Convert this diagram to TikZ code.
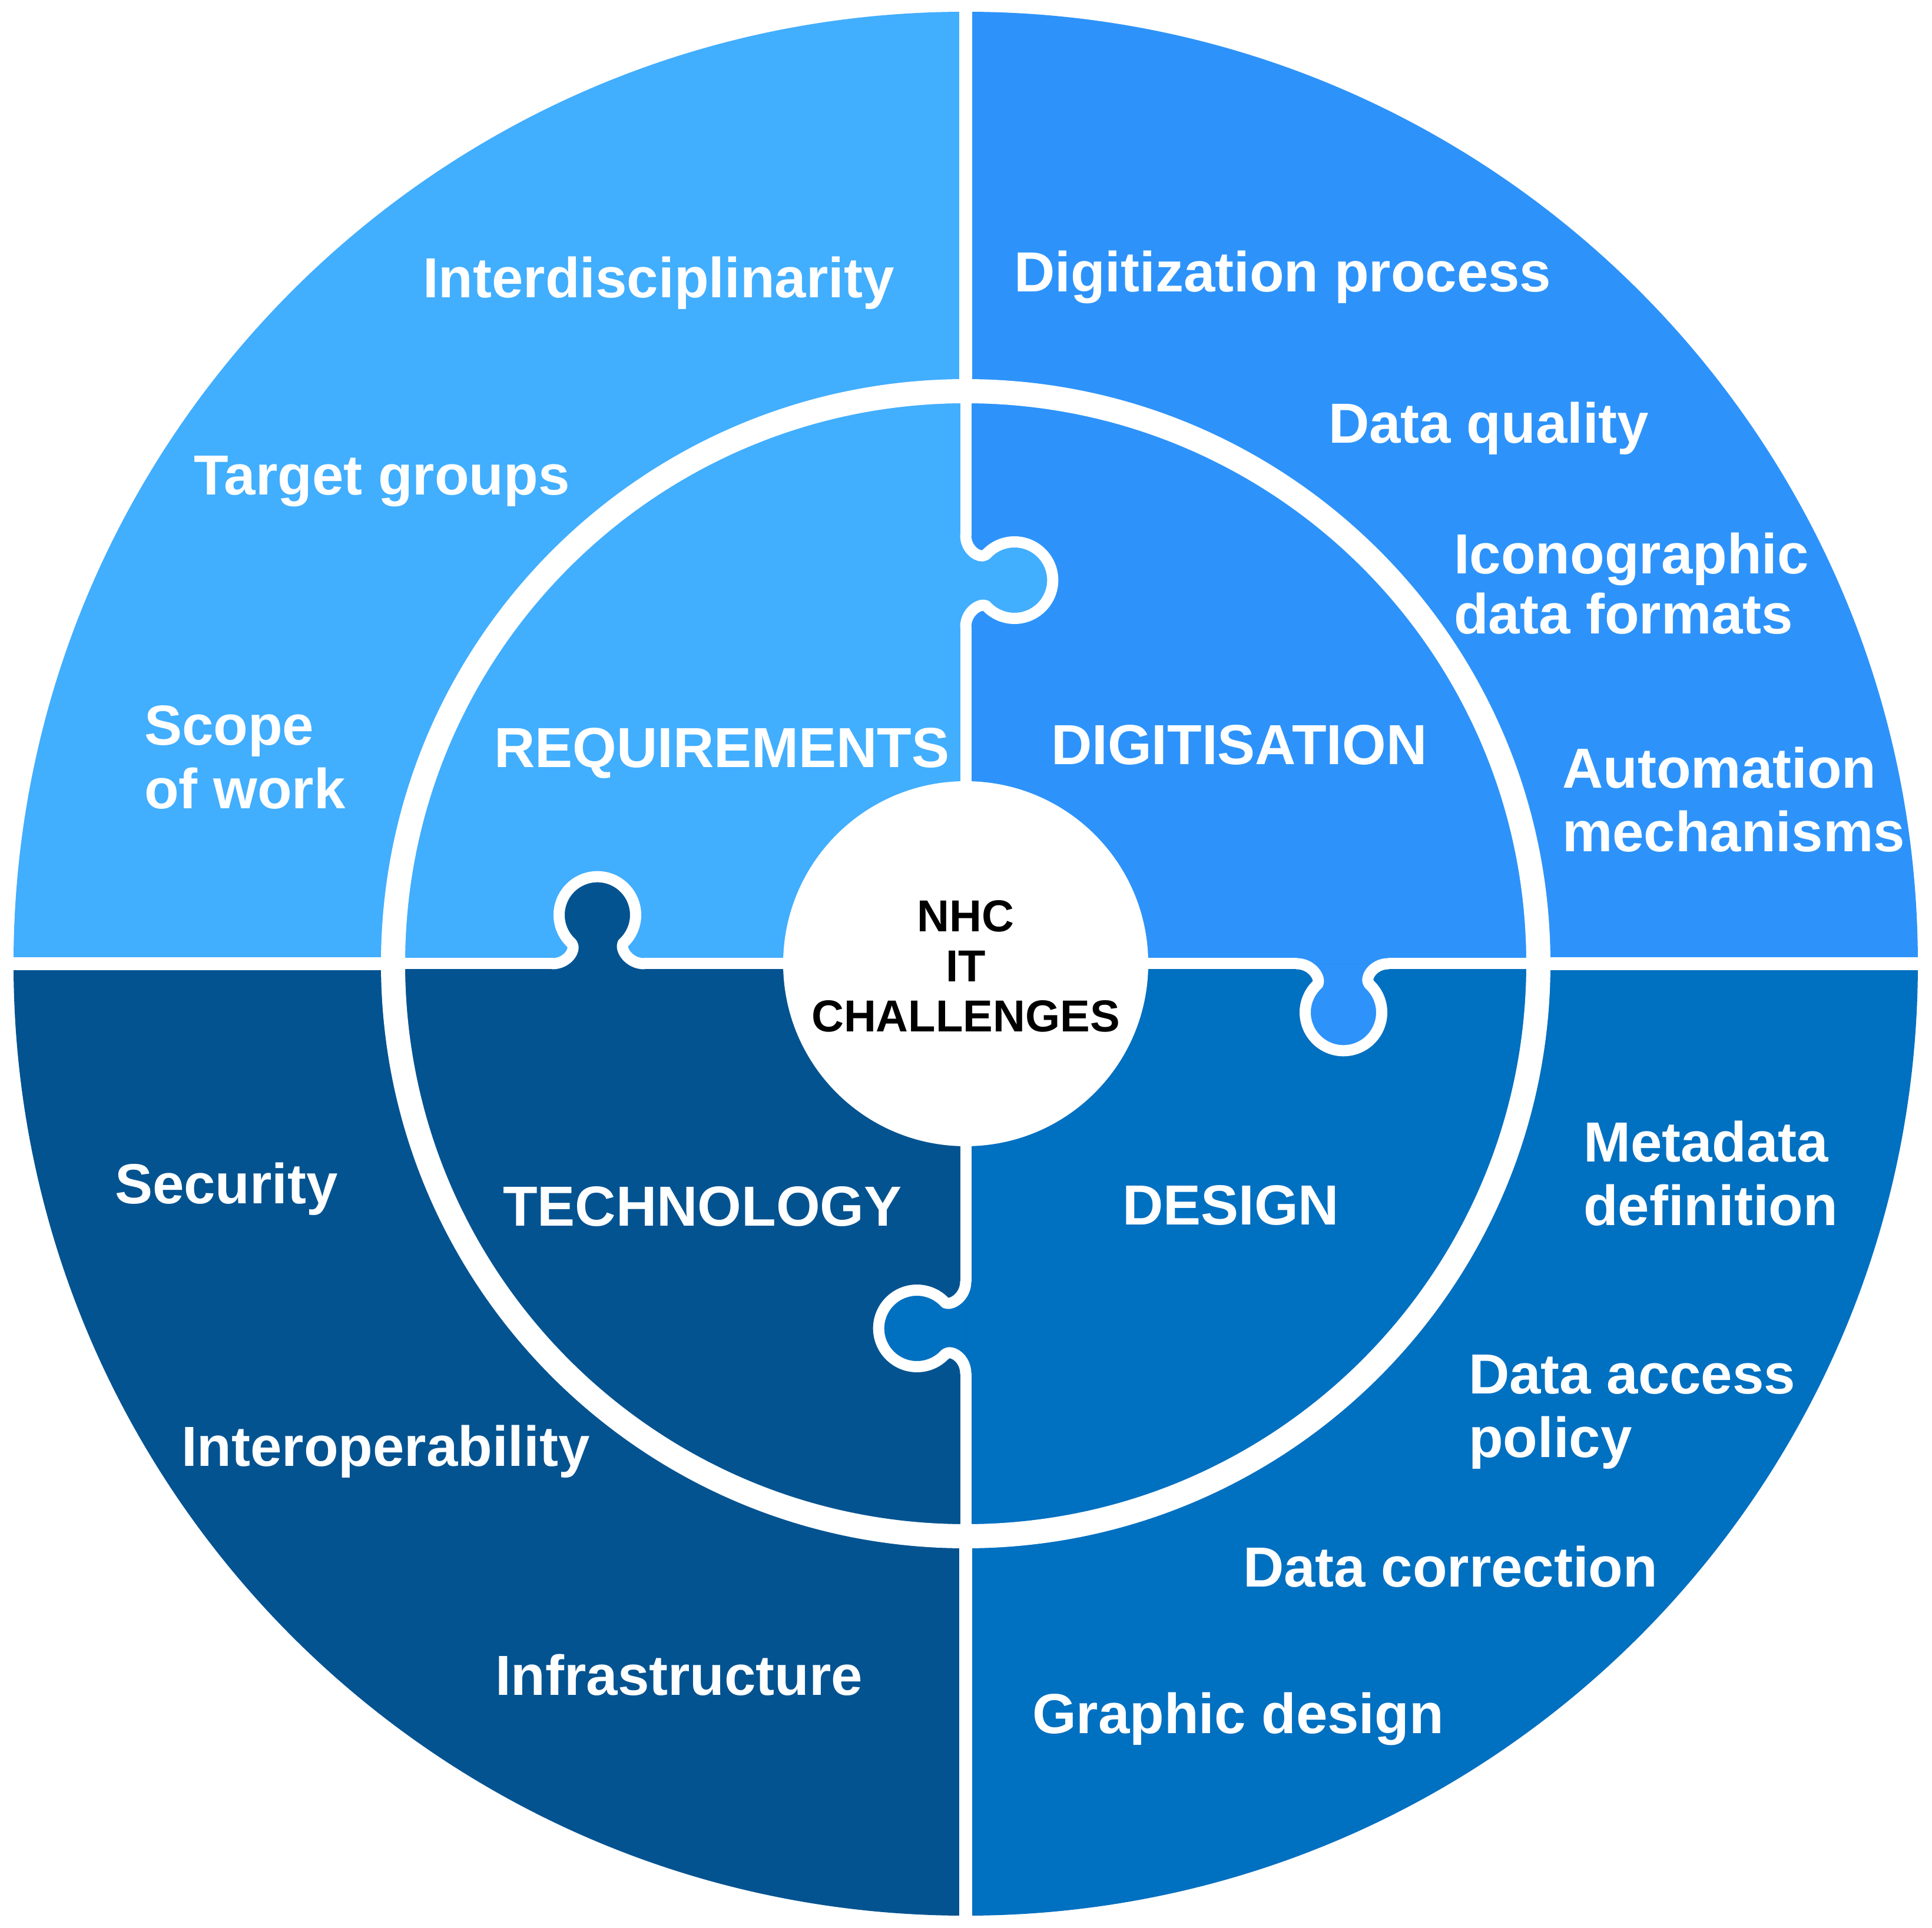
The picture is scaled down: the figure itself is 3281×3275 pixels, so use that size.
\documentclass[tikz,border=0pt]{standalone}
\usepackage{fontspec}
\setmainfont{Liberation Sans}
\definecolor{cReq}{HTML}{42AEFE}
\definecolor{cDig}{HTML}{2D93FA}
\definecolor{cDes}{HTML}{0070C1}
\definecolor{cTec}{HTML}{035391}
\newcommand\puzzleknob[3]{%
  \begin{scope}[shift={#1}, rotate=#2]
    \fill[#3] (-78,0) .. controls (-52,0) and (-37,24) .. (-45,34.5)
      arc[start angle=228, end angle=-48, radius=65]
      .. controls (37,24) and (52,0) .. (78,0) -- cycle;
    \draw[seam] (-79,0) -- (-78,0) .. controls (-52,0) and (-37,24) .. (-45,34.5)
      arc[start angle=228, end angle=-48, radius=65]
      .. controls (37,24) and (52,0) .. (78,0) -- (79,0);
  \end{scope}}
\begin{document}
\begin{tikzpicture}[x=1pt,y=1pt,
  seam/.style={draw=white, line width=19pt, line join=round},
  outgap/.style={draw=white, line width=22pt},
  lbl/.style={text=white, font=\fontsize{96}{108}\selectfont\bfseries, inner sep=0pt, anchor=base west, align=left},
  ctr/.style={text=black, font=\fontsize{76}{85}\selectfont\bfseries, inner sep=0pt, anchor=base, align=center}]
\useasboundingbox (-1640,-1638) rectangle (1641,1637);
\fill[white] (-1640,-1638) rectangle (1641,1637);
% quadrants
\fill[cReq] (0,0) -- (-1617,0) arc[start angle=180, end angle=90, radius=1617] -- cycle;
\fill[cDig] (0,0) -- (0,1617) arc[start angle=90, end angle=0, radius=1617] -- cycle;
\fill[cDes] (0,0) -- (1617,0) arc[start angle=0, end angle=-90, radius=1617] -- cycle;
\fill[cTec] (0,0) -- (0,-1617) arc[start angle=-90, end angle=-180, radius=1617] -- cycle;
% ring between inner pieces and outer segments
\draw[white, line width=41pt] (0,0) circle[radius=972.5];
% outer gaps
\draw[outgap] (0,965) -- (0,1630);
\draw[outgap] (0,-965) -- (0,-1630);
\draw[outgap] (-965,0) -- (-1630,0);
\draw[outgap] (965,0) -- (1630,0);
% puzzle knobs
\puzzleknob{(0,650)}{-90}{cReq}
\puzzleknob{(-624,0)}{0}{cTec}
\puzzleknob{(640,0)}{180}{cDig}
\puzzleknob{(0,-618)}{90}{cDes}
% straight seams of inner pieces
\draw[seam] (0,290) -- (0,573);
\draw[seam] (0,727) -- (0,960);
\draw[seam] (-290,0) -- (-547,0);
\draw[seam] (-701,0) -- (-960,0);
\draw[seam] (290,0) -- (563,0);
\draw[seam] (717,0) -- (960,0);
\draw[seam] (0,-290) -- (0,-541);
\draw[seam] (0,-695) -- (0,-960);
% centre
\fill[white] (0,0) circle[radius=310];
\node[ctr] (centre) at (0,-116) {NHC\\IT\\CHALLENGES};
% inner labels
\node[lbl] (req) at (-801,333) {REQUIREMENTS};
\node[lbl] (dig) at (145,338) {DIGITISATION};
\node[lbl] (tec) at (-786,-445) {TECHNOLOGY};
\node[lbl] (des) at (266,-443) {DESIGN};
% outer labels (multi-line nodes: position is the baseline of the last line)
\node[lbl] (inter) at (-922,1131) {Interdisciplinarity};
\node[lbl] (target) at (-1311,796) {Target groups};
\node[lbl] (scope) at (-1395,263) {Scope\\of work};
\node[lbl] (digproc) at (82,1141) {Digitization process};
\node[lbl] (quality) at (616,884) {Data quality};
\node[lbl, font=\fontsize{96}{102}\selectfont\bfseries] (icono) at (829,560) {Iconographic\\data formats};
\node[lbl] (auto) at (1013,190) {Automation\\mechanisms};
\node[lbl] (secu) at (-1445,-407) {Security};
\node[lbl] (interop) at (-1332,-853) {Interoperability};
\node[lbl] (infra) at (-799,-1242) {Infrastructure};
\node[lbl] (meta) at (1049,-444) {Metadata\\definition};
\node[lbl] (access) at (854,-838) {Data access\\policy};
\node[lbl] (correct) at (471,-1058) {Data correction};
\node[lbl] (graphic) at (113,-1307) {Graphic design};
\end{tikzpicture}
\end{document}
